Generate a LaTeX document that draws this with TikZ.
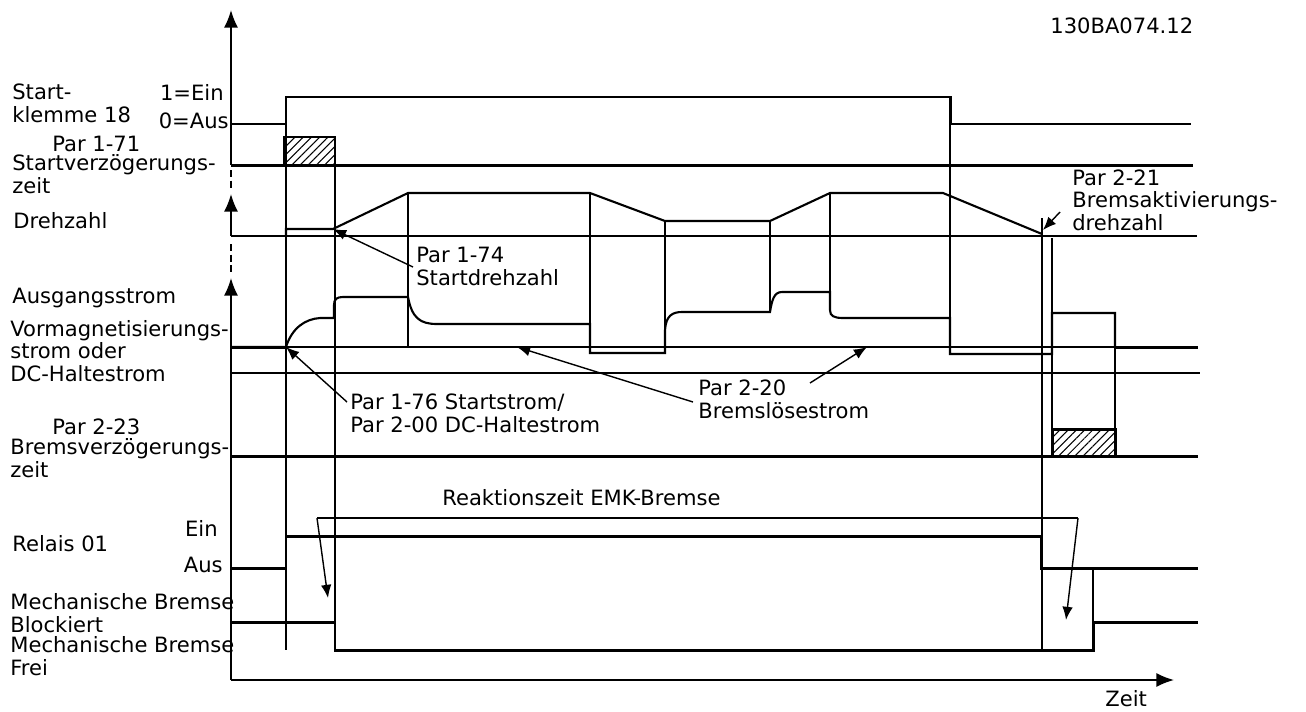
\documentclass[tikz,border=0pt]{standalone}
\usepackage{fontspec}
\setmainfont{DejaVu Sans}
\usetikzlibrary{arrows.meta,patterns.meta}
\newcommand\lblfont{\fontsize{12}{12.8}\selectfont}
\tikzset{
  sig/.style={line width=1.7pt},
  mid/.style={line width=1.2pt},
  grid/.style={line width=0.75pt},
  axis/.style={line width=1pt,-{Latex[length=10pt,width=8pt]}},
  note/.style={line width=0.8pt,-{Latex[length=7.5pt,width=6pt]}},
  lbl/.style={font=\lblfont,inner sep=0pt,align=left,anchor=base west},
  rlbl/.style={font=\lblfont,inner sep=0pt,anchor=base east},
  hatch/.style={sig,pattern={Lines[angle=45,distance=3.3pt,line width=0.6pt]}}
}

\begin{document}
\begin{tikzpicture}[x=0.02cm,y=-0.02cm]
  \useasboundingbox (0,0) rectangle (1306,711);

  % axes
  \draw[axis] (231,165) -- (231,10);
  \draw[grid,dash pattern=on 4pt off 2pt] (231,170) -- (231,190);
  \draw[axis] (231,236) -- (231,194);
  \draw[grid,dash pattern=on 4pt off 2pt] (231,244) -- (231,272);
  \draw[axis] (231,680) -- (231,278);
  \draw[axis] (231,680) -- (1174,680);

  % thin grid lines
  \draw[grid] (286,97) -- (286,650);
  \draw[grid] (335,137) -- (335,622);
  \draw[grid] (408,193) -- (408,347);
  \draw[grid] (590,193) -- (590,324);
  \draw[grid] (665,221) -- (665,353);
  \draw[grid] (770,221) -- (770,312);
  \draw[grid] (830,193) -- (830,292);
  \draw[grid] (950,97) -- (950,318);
  \draw[mid] (1042,218) -- (1042,650);
  \draw[grid] (1052,238) -- (1052,429);
  \draw[grid] (1115,313) -- (1115,429);
  \draw[grid] (1093,570) -- (1093,622);
  \draw[grid] (231,347) -- (1198,347);
  \draw[grid] (231,373) -- (1200,373);

  % Startklemme 18
  \draw[sig] (231,124) -- (286,124) -- (286,97) -- (950,97) -- (950,124) -- (1191,124);
  % Startverzoegerungszeit
  \draw[sig] (231,165) -- (1193,165);
  \draw[hatch] (284,137) rectangle (335,165);
  % Drehzahl
  \draw[mid] (231,236) -- (1197,236);
  \draw[mid] (286,236) -- (286,229) -- (333,229) -- (408,193) -- (590,193) -- (665,221)
    -- (770,221) -- (830,193) -- (943,193) -- (1042,234);
  % Ausgangsstrom
  \draw[mid] (231,347) -- (286,347) .. controls (292,328) and (305,319) .. (320,318)
    -- (334,318) -- (334,305) .. controls (334,299) and (337,297) .. (343,297)
    -- (408,297) .. controls (412,318) and (420,324) .. (437,324) -- (590,324)
    -- (590,353) -- (665,353) -- (665,330) .. controls (666,316) and (672,312) .. (682,312)
    -- (770,312) .. controls (772,300) and (774,292) .. (782,292) -- (830,292)
    -- (830,310) .. controls (830,316) and (834,318) .. (843,318) -- (950,318)
    -- (950,354) -- (1052,354) -- (1052,313) -- (1115,313) -- (1115,347);
  \draw[sig] (1115,347) -- (1198,347);
  \draw[sig] (231,347) -- (286,347);
  % Bremsverzoegerungszeit
  \draw[sig] (231,456) -- (1198,456);
  \draw[hatch] (1052,429) rectangle (1115,456);
  % Relais 01
  \draw[sig] (231,568) -- (286,568) -- (286,536) -- (1041,536) -- (1041,568) -- (1198,568);
  % Mechanische Bremse
  \draw[sig] (231,622) -- (335,622) -- (335,650) -- (1093,650) -- (1093,622) -- (1198,622);

  % Reaktionszeit EMK-Bremse
  \coordinate (rzl) at (317,518);
  \coordinate (rzr) at (1078,518);
  \coordinate (rzlend) at (328,598);
  \coordinate (rzrend) at (1066,620);
  \draw[grid] (rzl) -- (rzr);
  \draw[note] (rzl) -- (rzlend);
  \draw[note] (rzr) -- (rzrend);

  % labels (base = last line)
  \node[lbl] (klemme) at (12,122) {Start-\\klemme 18};
  \node[rlbl] (ein1) at (224,100) {1=Ein};
  \node[rlbl] (aus1) at (229,128) {0=Aus};
  \node[lbl] (par171) at (52,151) {Par 1-71};
  \node[lbl] (sverz) at (12,193) {Startverzögerungs-\\zeit};
  \node[lbl] (drehz) at (13,228) {Drehzahl};
  \node[lbl] (astrom) at (12,303) {Ausgangsstrom};
  \node[lbl] (vormag) at (10,381) {Vormagnetisierungs-\\strom oder\\DC-Haltestrom};
  \node[lbl] (par223) at (52,434) {Par 2-23};
  \node[lbl] (bverz) at (10,477) {Bremsverzögerungs-\\zeit};
  \node[rlbl] (ein2) at (218,536) {Ein};
  \node[lbl] (relais) at (12,551) {Relais 01};
  \node[rlbl] (aus2) at (223,572) {Aus};
  \node[lbl] (blockiert) at (10,632) {Mechanische Bremse\\Blockiert};
  \node[lbl] (frei) at (10,675) {Mechanische Bremse\\Frei};
  \node[lbl] (reakt) at (442,505) {Reaktionszeit EMK-Bremse};
  \node[lbl] (zeit) at (1105,706) {Zeit};
  \node[lbl] (code) at (1050,33) {130BA074.12};
  \node[lbl] (par221) at (1072,230) {Par 2-21\\Bremsaktivierungs-\\drehzahl};
  \node[lbl] (par174) at (416,285) {Par 1-74\\Startdrehzahl};
  \node[lbl] (par176) at (350,432) {Par 1-76 Startstrom/\\Par 2-00 DC-Haltestrom};
  \node[lbl] (par220) at (698,418) {Par 2-20\\Bremslösestrom};

  % annotation arrows
  \coordinate (sd) at (333,229);
  \coordinate (sdstart) at (413,267);
  \coordinate (ist) at (286,347);
  \coordinate (iststart) at (347,402);
  \coordinate (ibl) at (517,347);
  \coordinate (iblstart) at (693,402);
  \coordinate (ibr) at (867,347);
  \coordinate (ibrstart) at (810,383);
  \coordinate (bad) at (1043,230);
  \coordinate (badstart) at (1060,212);
  \draw[note] (sdstart) -- (sd);
  \draw[note] (iststart) -- (ist);
  \draw[note] (iblstart) -- (ibl);
  \draw[note] (ibrstart) -- (ibr);
  \draw[note] (badstart) -- (bad);
\end{tikzpicture}
\end{document}
